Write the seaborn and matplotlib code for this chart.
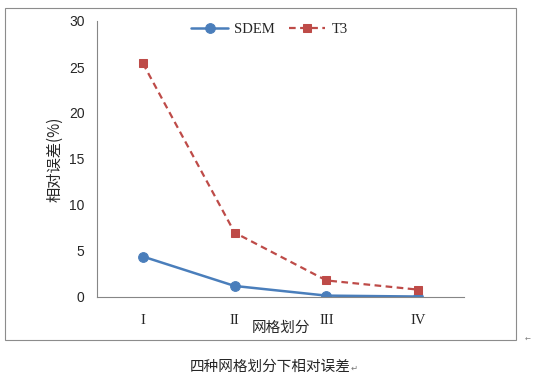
import matplotlib
matplotlib.use("Agg")
import matplotlib.pyplot as plt
import seaborn as sns
import pandas as pd
from matplotlib.patches import Rectangle

categories = ["I", "II", "III", "IV"]
sdem = [4.4, 1.2, 0.15, 0.05]
t3 = [25.4, 7.0, 1.8, 0.8]
y_ticks = [0, 5, 10, 15, 20, 25, 30]

sns.set_theme(style="white")
plt.rcParams['font.family'] = ['Noto Sans CJK SC', 'DejaVu Sans']

fig = plt.figure(figsize=(5.34, 3.77), dpi=100)
W, H = 534, 377
ax = fig.add_axes([97 / W, 1 - 297 / H, (464 - 97) / W, (297 - 21) / H])

df = pd.DataFrame({"x": list(range(len(categories))) * 2,
                   "y": sdem + t3,
                   "series": ["SDEM"] * 4 + ["T3"] * 4})
blue = "#4A7EBB"
red = "#BE4B48"
sns.lineplot(data=df[df.series == "SDEM"], x="x", y="y", ax=ax, color=blue,
             marker="o", markersize=7, markeredgecolor=blue, linewidth=1.8,
             label="SDEM")
sns.lineplot(data=df[df.series == "T3"], x="x", y="y", ax=ax, color=red,
             marker="s", markersize=5.5, markeredgecolor=red, linewidth=1.6,
             linestyle=(0, (3, 2)), label="T3")

ax.set_xlim(-0.5, len(categories) - 0.5)
ax.set_ylim(0, 30)
ax.set_yticks(y_ticks)
ax.set_yticklabels([str(v) for v in y_ticks], fontsize=10, family=['Liberation Sans'])
ax.set_xticks([i - 0.5 for i in range(len(categories) + 1)])
ax.set_xticklabels([])
ax.set_xticks(range(len(categories)), minor=True)
ax.set_xticklabels(categories, minor=True, fontsize=10.5, family=['Liberation Serif'])
ax.tick_params(axis="x", which="major", direction="out", length=5, color="#868686", width=0.8)
ax.tick_params(axis="x", which="minor", length=0, pad=12)
ax.tick_params(axis="y", direction="out", length=5, color="#868686", width=0.8, pad=4)
for s in ["top", "right"]:
    ax.spines[s].set_visible(False)
for s in ["left", "bottom"]:
    ax.spines[s].set_color("#868686")
    ax.spines[s].set_linewidth(0.8)
ax.set_xlabel("网格划分", fontsize=10.5, labelpad=-4)
ax.set_ylabel("相对误差(%)", fontsize=11, labelpad=4)

leg = ax.legend(loc="upper center", bbox_to_anchor=(0.47, 1.04), ncol=2, frameon=False,
                prop={'family': 'Liberation Serif', 'size': 10.5}, handlelength=2.5,
                columnspacing=1.0, handletextpad=0.4)

fig.patches.append(Rectangle((5 / W, 1 - 340 / H), (516 - 5) / W, (340 - 8) / H,
                             transform=fig.transFigure, fill=False,
                             edgecolor="#8C8C8C", linewidth=0.8))
fig.text(270 / W, 1 - 367 / H, "四种网格划分下相对误差", fontsize=10.5,
         ha="center", va="center")
fig.text(1052 / 3 / W, 1 - 368 / H, "↵", fontsize=6, color="#777777", ha="left", va="center",
         family=['DejaVu Sans'])
fig.text(528 / W, 1 - 340 / H, "←", fontsize=5, color="#777777", ha="center", va="center",
         family=['DejaVu Sans'])

fig.savefig("out.png", dpi=100)
